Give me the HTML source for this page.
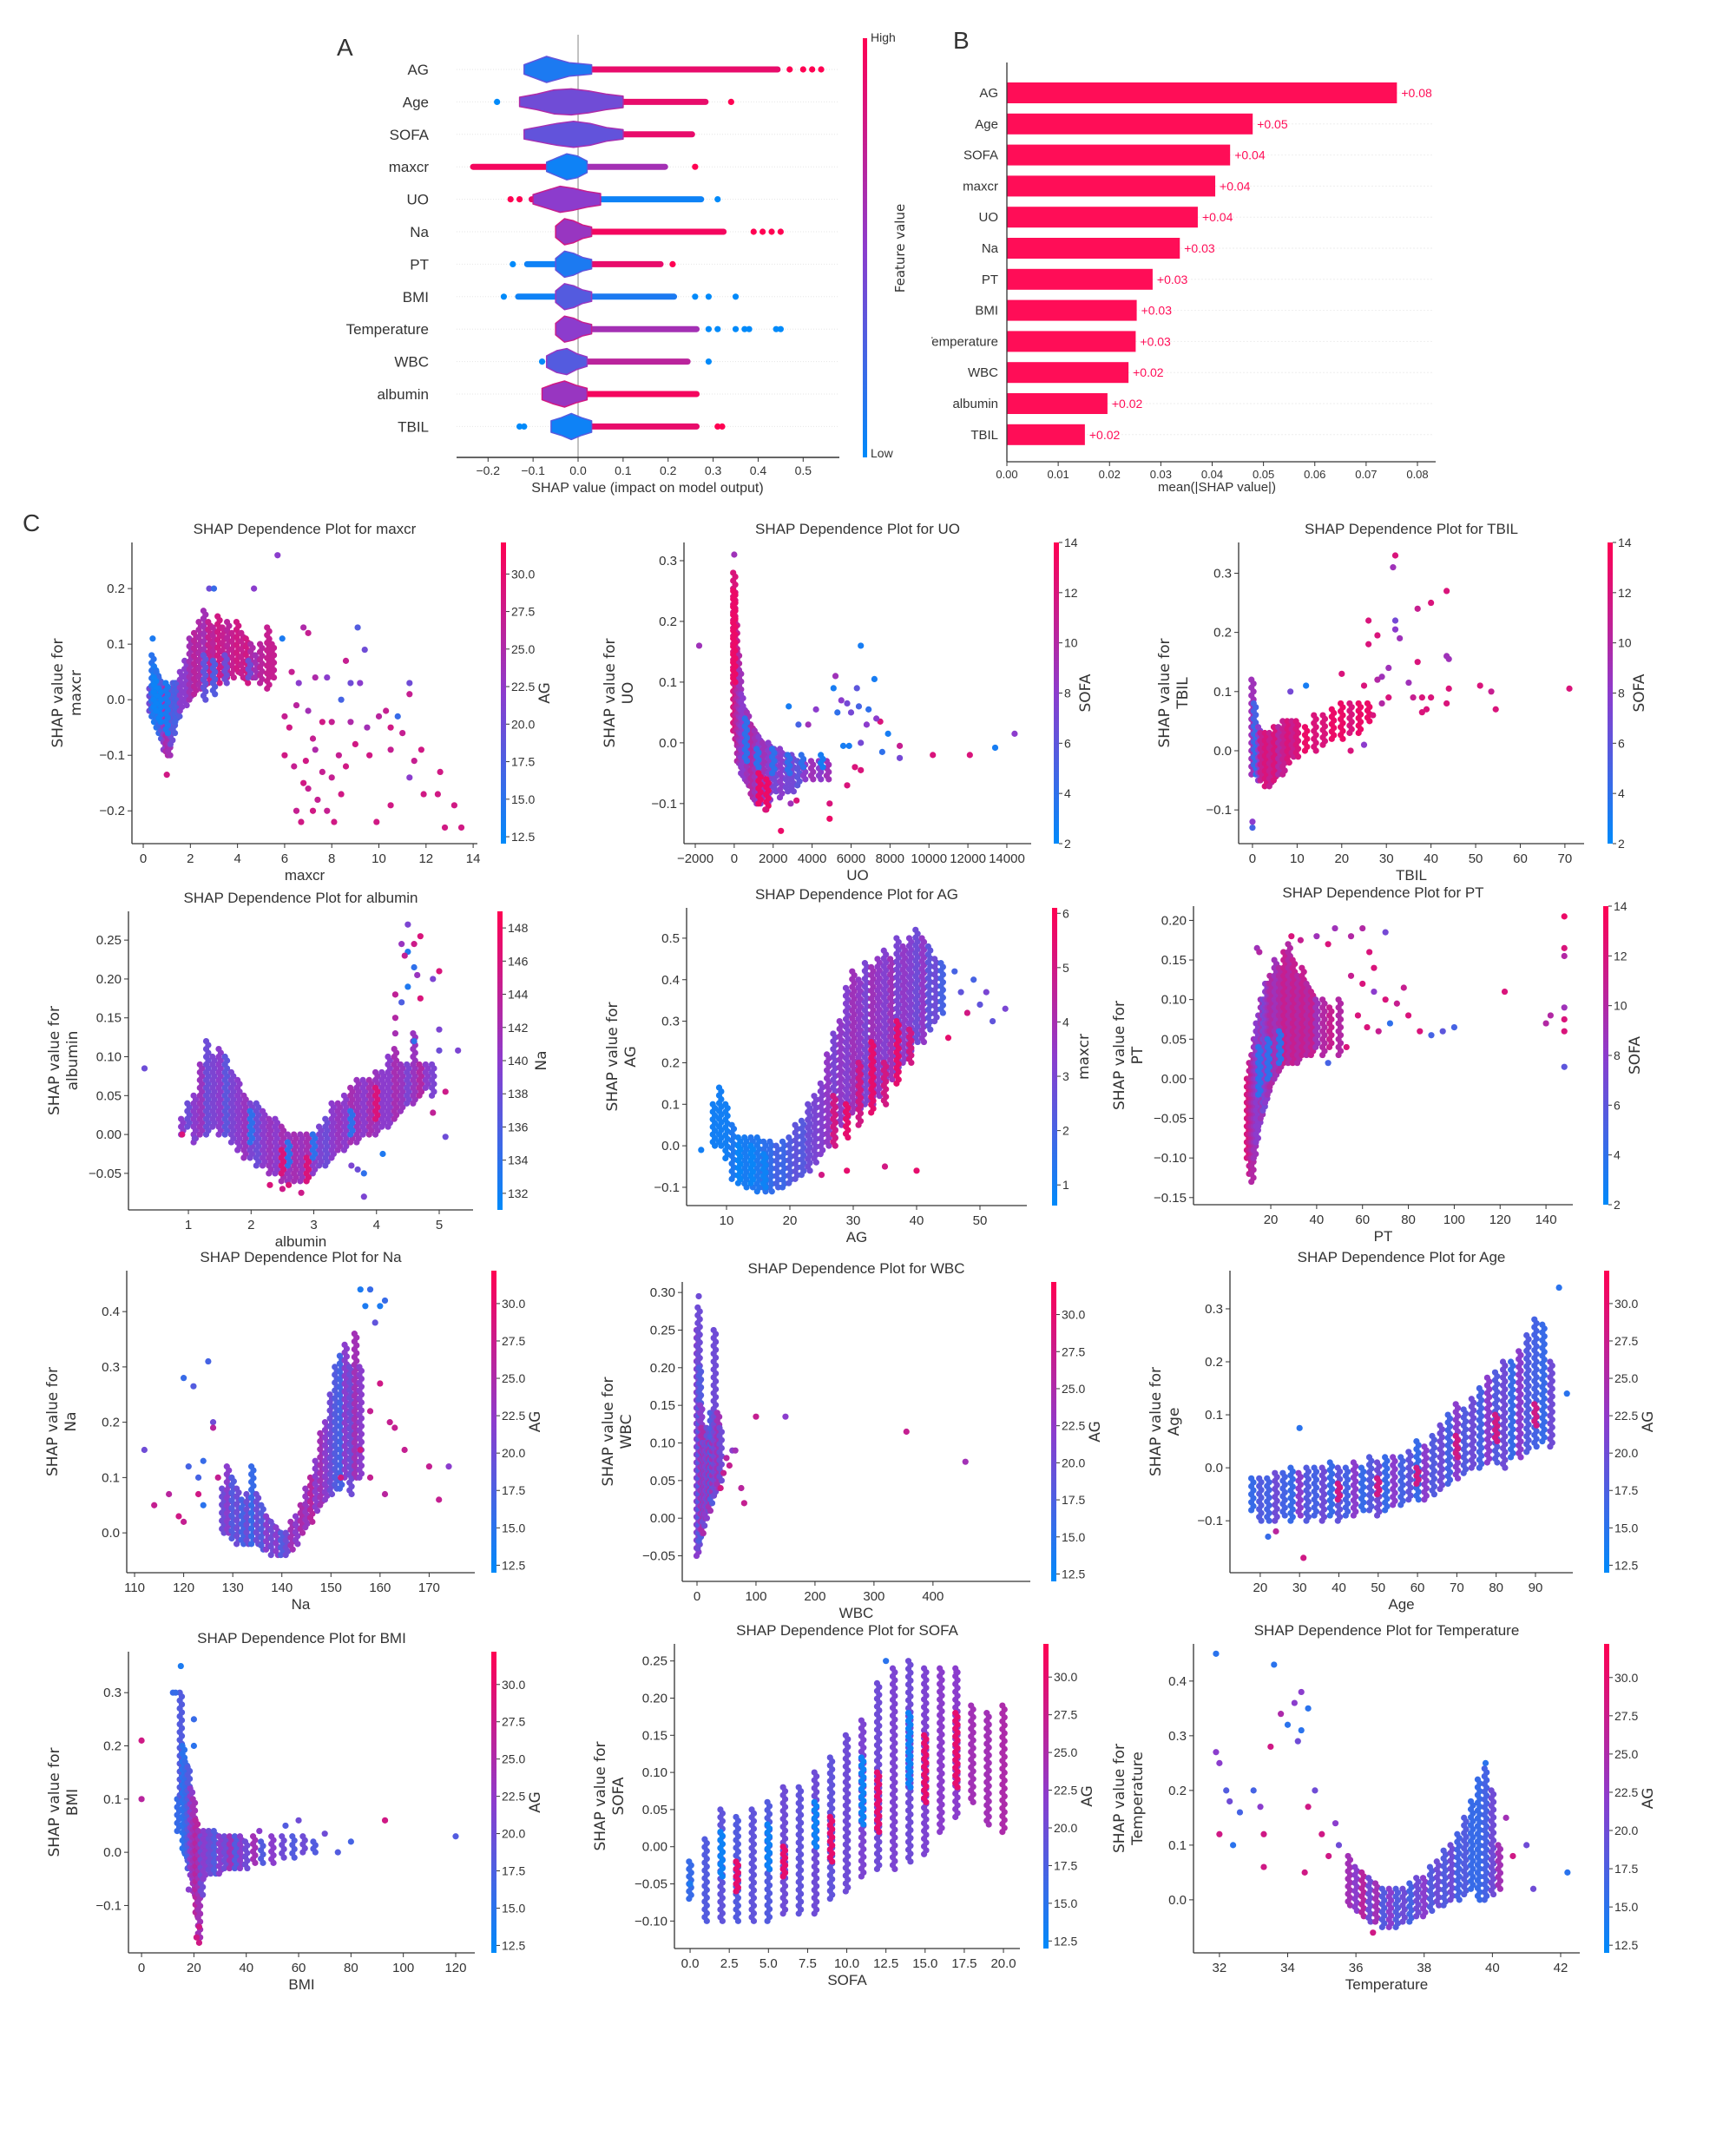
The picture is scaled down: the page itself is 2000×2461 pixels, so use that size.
<!DOCTYPE html>
<html><head><meta charset="utf-8"><style>
html,body{margin:0;padding:0;background:#fff}
svg{display:block}
text{font-family:"Liberation Sans",sans-serif;fill:#333}
.dj{font-family:"DejaVu Sans","Liberation Sans",sans-serif}
</style></head><body>
<svg id="fig" xmlns="http://www.w3.org/2000/svg" width="2000" height="2461" viewBox="0 0 2000 2461">
<defs>
<linearGradient id="cbar" x1="0" y1="1" x2="0" y2="0">
<stop offset="0" stop-color="rgb(0,138,250)"/><stop offset="0.5" stop-color="rgb(140,60,205)"/><stop offset="1" stop-color="rgb(255,0,82)"/>
</linearGradient>
<clipPath id="bclip"><rect x="1073" y="0" width="900" height="600"/></clipPath>
</defs>
<g id="panelA"></g>
<g id="panelB"></g>
<g id="panelC"></g>
</svg>
<script>
// ---------- Panel A data ----------
const beeNames=["AG","Age","SOFA","maxcr","UO","Na","PT","BMI","Temperature","WBC","albumin","TBIL"];
const beeCoreLo=[-0.12,-0.13,-0.12,-0.07,-0.1,-0.05,-0.05,-0.05,-0.05,-0.07,-0.08,-0.06];
const beeCoreHi=[0.03,0.1,0.1,0.02,0.05,0.03,0.03,0.03,0.03,0.02,0.02,0.03];
const beeDensity=[[0.2,0.6,1,0.7,0.4,0.3,0.2],[0.2,0.5,0.9,1,0.8,0.5,0.3],[0.2,0.5,0.8,1,0.8,0.4,0.2],[0.2,0.6,1,0.8,0.3],[0.2,0.6,1,0.8,0.5,0.3],[0.3,1,0.8,0.4,0.2],[0.3,1,0.8,0.4,0.2],[0.3,1,0.8,0.4,0.2],[0.3,1,0.8,0.4,0.2],[0.3,0.8,1,0.5,0.2],[0.3,0.7,1,0.6,0.3],[0.3,0.6,1,0.6,0.3]];
const beeCoreC=[0.1,0.4,0.35,0.05,0.5,0.55,0.1,0.3,0.5,0.3,0.55,0.05];
const beeTailLo=[-0.12,-0.13,-0.12,-0.24,-0.11,-0.05,-0.12,-0.14,-0.05,-0.07,-0.08,-0.06];
const beeTailLoC=[0.1,0.2,0.2,0.95,0.9,0.5,0.05,0.05,0.5,0.3,0.6,0.1];
const beeTailHi=[0.45,0.29,0.26,0.2,0.28,0.33,0.19,0.22,0.27,0.25,0.27,0.27];
const beeTailC=[0.9,0.9,0.9,0.6,0.05,0.95,0.9,0.1,0.6,0.7,0.95,0.9];
const beeDots=[[[0.47,1],[0.5,1],[0.52,1],[0.54,1]],[[-0.18,0],[0.34,1]],[],[[0.26,1]],[[-0.15,1],[-0.13,1],[0.31,0]],[[0.39,1],[0.41,1],[0.43,1],[0.45,1]],[[-0.145,0],[0.21,1]],[[-0.165,0],[0.26,0],[0.29,0],[0.35,0]],[[0.29,0],[0.31,0],[0.35,0],[0.37,0],[0.38,0],[0.44,0],[0.45,0]],[[-0.08,0],[0.29,0]],[],[[-0.13,0],[-0.12,0],[0.31,1],[0.32,1]]];
const beeTicks=["−0.2","−0.1","0.0","0.1","0.2","0.3","0.4","0.5"];
// ---------- Panel B data ----------
const barNames=["AG","Age","SOFA","maxcr","UO","Na","PT","BMI","Temperature","WBC","albumin","TBIL"];
const barValues=[0.076,0.0479,0.0435,0.0406,0.0372,0.0337,0.0284,0.0253,0.0251,0.0237,0.0196,0.0152];
const barLabels=["+0.08","+0.05","+0.04","+0.04","+0.04","+0.03","+0.03","+0.03","+0.03","+0.02","+0.02","+0.02"];
const barTicks=["0.00","0.01","0.02","0.03","0.04","0.05","0.06","0.07","0.08"];
// ---------- Panel C data: bands [x, yLow, yHigh, colorValue], points [x, y, colorValue] ----------
const maxcrBands=[[0.3,-0.02,0.02,20],[0.4,-0.03,0.08,15],[0.5,-0.04,0.06,14],[0.6,-0.05,0.05,15],[0.7,-0.06,0.04,16],[0.8,-0.07,0.03,18],[0.9,-0.09,0.02,22],[1.0,-0.1,0.02,25],[1.1,-0.1,0.02,24],[1.2,-0.08,0.02,20],[1.3,-0.06,0.03,18],[1.4,-0.04,0.03,17],[1.5,-0.03,0.03,18],[1.6,-0.02,0.05,22],[1.8,-0.01,0.07,22],[2.0,0.0,0.11,24],[2.2,0.01,0.12,26],[2.4,0.02,0.14,25],[2.6,0.02,0.16,24],[2.8,0.03,0.14,27],[3.0,0.03,0.13,26],[3.2,0.03,0.15,28],[3.4,0.04,0.13,27],[3.6,0.04,0.14,26],[3.8,0.04,0.12,27],[4.0,0.05,0.14,28],[4.2,0.04,0.12,27],[4.4,0.03,0.11,28],[4.6,0.04,0.1,25],[4.8,0.04,0.08,24],[5.0,0.03,0.1,26],[5.3,0.02,0.13,27],[5.5,0.04,0.1,27],[0.7,-0.04,0.02,13],[1.0,-0.06,0.03,14],[0.5,-0.02,0.04,13],[2.6,0.0,0.08,19],[3.0,0.01,0.07,18],[3.5,0.03,0.08,20],[4.5,0.04,0.07,20]];
const maxcrPts=[[5.7,0.26,22],[2.8,0.2,20],[3.0,0.2,16],[4.7,0.2,22],[6.8,0.13,25],[7.0,0.12,27],[9.1,0.13,18],[9.4,0.09,20],[5.9,0.11,14],[6.3,0.05,27],[6.6,0.03,22],[7.3,0.04,25],[7.8,0.04,22],[8.6,0.07,27],[8.8,0.03,20],[9.2,0.03,22],[11.3,0.03,20],[11.3,0.01,27],[8.4,0.0,17],[6.0,-0.03,27],[6.5,-0.01,26],[7.0,-0.02,24],[7.6,-0.04,28],[8.0,-0.04,27],[8.8,-0.04,25],[9.5,-0.05,24],[10.0,-0.03,26],[10.3,-0.02,27],[10.5,-0.05,28],[10.8,-0.03,16],[11.0,-0.06,27],[6.0,-0.1,28],[6.4,-0.12,27],[6.8,-0.15,28],[7.0,-0.16,27],[7.3,-0.09,25],[7.6,-0.13,27],[8.0,-0.14,27],[8.4,-0.17,28],[7.2,-0.2,28],[7.8,-0.2,27],[8.1,-0.22,28],[6.7,-0.22,28],[6.5,-0.2,27],[9.0,-0.08,28],[9.6,-0.1,28],[10.5,-0.19,28],[9.9,-0.22,28],[10.5,-0.09,27],[11.5,-0.11,27],[11.8,-0.09,28],[11.3,-0.14,22],[11.9,-0.17,28],[12.5,-0.17,28],[12.6,-0.13,28],[12.8,-0.23,28],[13.2,-0.19,28],[13.5,-0.23,28],[6.2,-0.05,28],[7.2,-0.07,27],[8.3,-0.1,27],[0.4,0.11,14],[1.0,-0.135,28],[6.9,-0.11,28],[7.4,-0.18,27],[8.6,-0.12,28]];
const uoBands=[[0,0.02,0.28,12],[100,0.0,0.2,11],[200,-0.03,0.15,10],[300,-0.04,0.12,9],[400,-0.05,0.08,8],[500,-0.06,0.06,8],[700,-0.07,0.05,9],[900,-0.09,0.03,10],[1100,-0.1,0.02,9],[1300,-0.1,0.01,8],[1500,-0.09,0.0,9],[1800,-0.1,0.0,8],[2100,-0.08,-0.01,7],[2400,-0.09,-0.01,8],[2700,-0.08,-0.02,7],[3000,-0.08,-0.02,7],[3300,-0.07,-0.03,6],[3600,-0.06,-0.03,8],[4000,-0.06,-0.03,9],[4400,-0.06,-0.03,8],[4800,-0.06,-0.03,9],[600,-0.03,0.04,4],[1200,-0.04,-0.01,4],[2000,-0.05,-0.01,4],[2800,-0.05,-0.02,4],[3500,-0.04,-0.02,4],[4500,-0.04,-0.02,3],[1300,-0.1,-0.05,13],[1700,-0.11,-0.06,13],[0,0.1,0.25,13]];
const uoPts=[[0,0.31,9],[-1800,0.16,9],[6500,0.16,3],[7200,0.105,3],[5200,0.11,9],[6300,0.09,6],[5100,0.09,3],[5500,0.07,8],[5800,0.065,7],[6400,0.06,5],[6000,0.05,7],[5300,0.05,4],[6900,0.055,4],[4200,0.055,8],[3800,0.03,9],[2800,0.06,3],[3300,0.03,5],[6800,0.03,8],[7500,0.035,12],[7300,0.04,8],[7900,0.015,3],[6500,0.0,7],[5600,-0.005,3],[5900,-0.005,3],[8500,-0.005,11],[7600,-0.015,4],[8500,-0.025,7],[10200,-0.02,12],[12100,-0.02,12],[13400,-0.008,3],[14400,0.015,8],[6200,-0.04,12],[6500,-0.045,12],[5800,-0.07,12],[4900,-0.1,12],[4900,-0.125,13],[2400,-0.145,13],[1600,-0.11,12],[2900,-0.1,9],[3200,-0.095,12]];
const tbilBands=[[0,-0.04,0.12,9],[0.5,-0.03,0.08,5],[1,-0.04,0.04,4],[1.5,-0.05,0.04,8],[2,-0.05,0.03,11],[3,-0.06,0.03,12],[4,-0.06,0.03,11],[5,-0.05,0.04,12],[6,-0.04,0.04,10],[7,-0.04,0.05,11],[8,-0.02,0.05,12],[9,-0.01,0.05,11],[10,-0.01,0.05,12],[12,0.0,0.04,13],[14,0.0,0.06,12],[16,0.01,0.06,12],[18,0.02,0.07,13],[20,0.02,0.08,13],[22,0.03,0.08,12],[24,0.03,0.08,13],[26,0.05,0.08,13]];
const tbilPts=[[32,0.33,12],[31.5,0.31,9],[43.5,0.27,12],[40,0.25,12],[37,0.24,11],[32,0.22,7],[26,0.22,12],[28,0.195,12],[32,0.205,8],[33,0.19,9],[26,0.18,12],[20,0.13,12],[30.5,0.14,9],[37,0.15,12],[43.5,0.16,9],[44,0.155,9],[29,0.125,9],[28,0.12,10],[35,0.115,9],[44,0.105,12],[51,0.11,12],[71,0.105,12],[53.5,0.1,11],[54.5,0.07,12],[38,0.09,12],[40,0.09,12],[43.5,0.08,12],[39,0.07,12],[36,0.09,11],[38,0.065,12],[30.5,0.09,12],[25,0.11,12],[12,0.11,3],[8.5,0.1,7],[0,-0.13,5],[0,-0.12,8],[27,0.06,12],[29,0.08,10],[22,0.0,12],[25,0.01,8]];
const albBands=[[0.9,0.0,0.02,140],[1.0,0.01,0.04,138],[1.1,-0.01,0.05,140],[1.2,0.0,0.09,141],[1.3,0.0,0.12,138],[1.4,0.01,0.1,139],[1.5,0.0,0.11,140],[1.6,0.0,0.1,137],[1.7,-0.01,0.08,139],[1.8,-0.02,0.07,140],[1.9,-0.03,0.05,141],[2.0,-0.03,0.04,139],[2.1,-0.04,0.04,138],[2.2,-0.04,0.03,140],[2.3,-0.05,0.02,141],[2.4,-0.05,0.02,140],[2.5,-0.06,0.01,142],[2.6,-0.06,0.0,141],[2.7,-0.06,0.0,142],[2.8,-0.06,0.0,141],[2.9,-0.06,0.0,142],[3.0,-0.05,0.0,140],[3.1,-0.04,0.01,139],[3.2,-0.04,0.02,138],[3.3,-0.03,0.04,140],[3.4,-0.02,0.04,141],[3.5,-0.02,0.05,140],[3.6,-0.01,0.06,142],[3.7,-0.01,0.07,141],[3.8,0.0,0.07,140],[3.9,0.0,0.07,142],[4.0,0.0,0.08,141],[4.1,0.01,0.08,140],[4.2,0.01,0.1,140],[4.3,0.02,0.11,142],[4.4,0.03,0.09,141],[4.5,0.04,0.09,139],[4.6,0.04,0.13,141],[4.7,0.05,0.09,143],[4.8,0.06,0.09,140],[4.9,0.05,0.09,139],[2.0,-0.01,0.03,134],[2.6,-0.04,-0.01,134],[3.0,-0.03,0.0,134],[3.6,0.0,0.03,134],[2.5,-0.05,-0.02,146],[2.9,-0.06,-0.03,146],[4.0,0.02,0.06,146]];
const albPts=[[0.3,0.085,138],[4.5,0.27,139],[4.4,0.245,141],[4.6,0.245,145],[4.7,0.255,146],[4.5,0.235,133],[4.45,0.23,144],[4.6,0.215,134],[4.65,0.205,141],[5.0,0.21,146],[4.9,0.2,139],[4.3,0.18,144],[4.5,0.19,133],[4.4,0.17,136],[4.7,0.175,146],[4.3,0.15,143],[4.3,0.13,142],[5.0,0.135,139],[4.6,0.12,134],[5.3,0.108,139],[5.0,0.108,138],[5.1,0.055,145],[4.9,0.028,144],[5.1,-0.003,138],[4.1,-0.025,133],[3.6,-0.04,139],[3.7,-0.045,138],[3.8,-0.05,134],[3.8,-0.08,139],[2.3,-0.065,146],[2.5,-0.07,145],[2.8,-0.075,145],[2.6,-0.065,146],[0.9,0.0,146],[1.1,-0.005,139]];
const agBands=[[8,0.0,0.1,1],[9,0.0,0.14,1],[10,-0.03,0.1,1],[11,-0.08,0.05,1.2],[12,-0.09,0.02,1],[13,-0.1,0.02,1.1],[14,-0.1,0.02,1.3],[15,-0.11,0.02,1.2],[16,-0.11,0.01,1.5],[17,-0.11,0.01,1.6],[18,-0.1,0.0,2],[19,-0.1,0.01,1.8],[20,-0.09,0.02,2.2],[21,-0.08,0.05,2.5],[22,-0.07,0.06,2.3],[23,-0.06,0.1,2.8],[24,-0.04,0.12,3],[25,-0.02,0.15,3.2],[26,0.0,0.22,3.5],[27,0.02,0.27,3],[28,0.05,0.3,3.5],[29,0.07,0.38,3.2],[30,0.08,0.42,3.8],[31,0.09,0.4,3.5],[32,0.1,0.44,3],[33,0.1,0.43,3.8],[34,0.12,0.45,3.5],[35,0.15,0.47,3.2],[36,0.16,0.45,3.8],[37,0.18,0.5,3],[38,0.2,0.48,3.5],[39,0.22,0.5,3.2],[40,0.25,0.52,2.8],[41,0.25,0.5,3.5],[42,0.28,0.48,2.5],[43,0.3,0.45,2.8],[44,0.32,0.44,2],[27,0.0,0.12,5],[29,0.02,0.1,5.5],[31,0.05,0.2,5],[33,0.08,0.25,5.5],[35,0.1,0.2,5],[37,0.15,0.3,5.5],[39,0.2,0.28,5],[12,-0.08,0.0,0.8],[14,-0.09,0.0,0.8],[16,-0.1,-0.02,0.9]];
const agPts=[[6,-0.01,1],[46,0.42,2],[47,0.37,2.5],[48,0.32,5],[49,0.4,2],[50,0.34,2.5],[52,0.3,2.5],[54,0.33,3],[51,0.37,3],[45,0.26,5.5],[40,-0.06,5.5],[35,-0.05,5],[29,-0.06,5.5],[25,-0.07,5]];
const ptBands=[[10,-0.1,0.0,12],[11,-0.12,0.02,11],[12,-0.13,0.03,10],[13,-0.1,0.05,9],[14,-0.08,0.07,8],[15,-0.06,0.08,8],[16,-0.05,0.1,9],[17,-0.04,0.1,7],[18,-0.03,0.12,8],[19,-0.02,0.12,9],[20,-0.01,0.13,10],[22,0.0,0.15,9],[24,0.01,0.14,10],[26,0.02,0.16,11],[28,0.02,0.17,10],[30,0.02,0.15,11],[32,0.02,0.13,10],[34,0.03,0.14,11],[36,0.03,0.12,10],[38,0.03,0.11,11],[40,0.04,0.1,9],[43,0.03,0.1,10],[46,0.04,0.09,11],[50,0.03,0.1,10],[15,-0.02,0.04,4],[19,0.0,0.05,4],[24,0.02,0.06,4]];
const ptPts=[[14,0.165,9],[15,0.16,10],[29,0.18,12],[33,0.175,11],[40,0.18,9],[45,0.17,12],[48,0.19,9],[55,0.18,10],[60,0.19,10],[63,0.16,12],[70,0.185,7],[65,0.14,12],[55,0.13,11],[60,0.12,12],[65,0.11,8],[70,0.1,12],[75,0.095,11],[80,0.08,12],[78,0.115,11],[58,0.08,12],[62,0.065,12],[67,0.06,11],[72,0.07,4],[85,0.06,12],[90,0.055,5],[95,0.06,6],[100,0.065,5],[122,0.11,12],[140,0.07,10],[142,0.08,10],[148,0.205,13],[148,0.165,12],[148,0.155,10],[148,0.09,9],[148,0.075,12],[148,0.06,12],[148,0.015,6],[53,0.04,12],[45,0.02,5]];
const naBands=[[128,0.0,0.08,20],[129,0.0,0.12,22],[130,-0.01,0.1,18],[131,-0.02,0.08,20],[132,-0.02,0.06,17],[133,-0.02,0.07,20],[134,-0.02,0.12,16],[135,-0.02,0.07,20],[136,-0.03,0.05,18],[137,-0.03,0.03,22],[138,-0.04,0.02,20],[139,-0.04,0.01,22],[140,-0.04,0.0,18],[141,-0.04,0.0,20],[142,-0.03,0.02,24],[143,-0.02,0.03,22],[144,0.0,0.05,25],[145,0.01,0.08,23],[146,0.02,0.1,26],[147,0.04,0.13,22],[148,0.05,0.18,24],[149,0.06,0.2,22],[150,0.07,0.25,20],[151,0.08,0.3,18],[152,0.08,0.32,17],[153,0.1,0.34,22],[154,0.07,0.3,20],[155,0.1,0.36,24],[156,0.1,0.3,22]];
const naPts=[[112,0.15,20],[114,0.05,27],[117,0.07,26],[119,0.03,28],[120,0.02,27],[120,0.28,16],[121,0.12,17],[122,0.265,18],[123,0.1,17],[124,0.05,15],[125,0.31,17],[126,0.2,20],[126,0.19,26],[124,0.13,16],[123,0.07,28],[127,0.1,27],[156,0.44,14],[158,0.44,16],[160,0.41,14],[161,0.42,16],[157,0.41,14],[159,0.38,19],[160,0.27,28],[162,0.2,27],[163,0.19,27],[158,0.22,27],[165,0.15,27],[170,0.12,27],[172,0.06,27],[174,0.12,22],[156,0.15,28],[158,0.1,27],[161,0.07,26],[152,0.1,28]];
const wbcBands=[[1,-0.05,0.25,22],[3,-0.04,0.28,20],[5,-0.03,0.2,18],[7,-0.02,0.15,22],[9,-0.02,0.12,25],[11,-0.01,0.1,20],[13,0.0,0.09,24],[15,0.0,0.1,22],[18,0.01,0.12,20],[21,0.01,0.1,24],[24,0.02,0.14,18],[27,0.03,0.1,24],[30,0.03,0.25,20],[33,0.04,0.12,22],[36,0.04,0.14,24],[40,0.05,0.12,20]];
const wbcPts=[[45,0.06,27],[50,0.08,26],[55,0.07,27],[60,0.09,22],[65,0.09,24],[75,0.04,26],[80,0.02,27],[100,0.135,27],[150,0.135,22],[355,0.115,27],[455,0.075,24],[40,0.04,28],[3,0.295,20]];
const ageBands=[[18,-0.08,-0.02,16],[20,-0.1,-0.02,18],[22,-0.1,-0.02,17],[24,-0.1,-0.01,20],[26,-0.09,-0.01,17],[28,-0.1,0.0,16],[30,-0.09,-0.01,22],[32,-0.1,0.0,18],[34,-0.09,0.0,17],[36,-0.1,0.0,20],[38,-0.09,0.01,16],[40,-0.1,0.0,19],[42,-0.09,0.0,17],[44,-0.09,0.01,22],[46,-0.08,0.0,16],[48,-0.08,0.02,18],[50,-0.09,0.01,20],[52,-0.08,0.02,16],[54,-0.07,0.02,22],[56,-0.07,0.02,17],[58,-0.06,0.03,19],[60,-0.06,0.05,16],[62,-0.06,0.04,22],[64,-0.05,0.06,18],[66,-0.04,0.08,20],[68,-0.03,0.1,17],[70,-0.02,0.12,22],[72,-0.01,0.11,18],[74,0.0,0.13,20],[76,0.0,0.15,17],[78,0.01,0.17,22],[80,0.01,0.18,18],[82,0.0,0.2,20],[84,0.02,0.2,16],[86,0.02,0.22,22],[88,0.03,0.25,18],[90,0.04,0.28,17],[92,0.05,0.27,16],[94,0.04,0.2,20],[40,-0.06,-0.03,28],[50,-0.05,-0.02,28],[60,-0.03,0.0,28],[70,0.02,0.06,28],[80,0.05,0.1,28],[90,0.08,0.12,28]];
const agePts=[[96,0.34,15],[98,0.14,15],[31,-0.17,28],[24,-0.12,26],[30,0.075,15],[22,-0.13,16]];
const bmiBands=[[14,0.04,0.1,16],[15,0.1,0.3,18],[16,0.0,0.2,15],[17,-0.01,0.17,16],[18,-0.03,0.16,18],[19,-0.05,0.12,22],[20,-0.08,0.1,24],[21,-0.12,0.06,26],[22,-0.16,0.04,24],[23,-0.08,0.03,20],[24,-0.05,0.04,22],[26,-0.04,0.04,20],[28,-0.04,0.04,18],[30,-0.04,0.03,22],[32,-0.03,0.03,20],[34,-0.03,0.03,24],[36,-0.03,0.03,18],[38,-0.03,0.03,22],[40,-0.03,0.02,20],[43,-0.02,0.03,24],[46,-0.02,0.02,18],[50,-0.02,0.03,22],[54,-0.01,0.03,20],[58,-0.01,0.03,18],[62,0.0,0.03,20],[66,0.0,0.02,18]];
const bmiPts=[[15,0.35,14],[12,0.3,16],[13,0.3,16],[0,0.21,28],[0,0.1,26],[20,0.2,15],[22,-0.14,28],[21,-0.16,28],[22,-0.17,28],[18,-0.07,22],[45,0.04,22],[55,0.05,18],[60,0.06,20],[70,0.035,20],[75,0.0,18],[80,0.02,17],[93,0.06,28],[120,0.03,18],[20,0.25,16]];
const sofaBands=[[0,-0.07,-0.02,16],[1,-0.1,0.01,18],[2,-0.1,0.05,19],[3,-0.1,0.04,18],[4,-0.1,0.05,19],[5,-0.1,0.06,18],[6,-0.09,0.08,20],[7,-0.09,0.08,19],[8,-0.09,0.1,20],[9,-0.07,0.12,19],[10,-0.06,0.15,20],[11,-0.04,0.17,21],[12,-0.03,0.22,20],[13,-0.03,0.24,21],[14,-0.02,0.25,20],[15,-0.01,0.24,21],[16,0.02,0.24,22],[17,0.04,0.24,22],[18,0.06,0.19,24],[19,0.03,0.18,24],[20,0.02,0.19,25],[3,-0.06,-0.02,30],[6,-0.04,0.0,30],[9,-0.02,0.04,30],[12,0.02,0.1,30],[15,0.06,0.15,30],[17,0.08,0.18,30],[2,-0.04,0.02,13],[5,-0.03,0.03,13],[8,0.0,0.06,13],[11,0.03,0.12,13],[14,0.08,0.18,13]];
const sofaPts=[[0,-0.05,14],[12.5,0.25,15],[17,0.235,22]];
const tempBands=[[35.8,-0.01,0.08,24],[36.0,-0.02,0.06,22],[36.2,-0.03,0.05,26],[36.4,-0.04,0.04,20],[36.6,-0.04,0.03,24],[36.8,-0.05,0.02,18],[37.0,-0.05,0.02,22],[37.2,-0.05,0.02,18],[37.4,-0.04,0.02,20],[37.6,-0.04,0.03,17],[37.8,-0.03,0.04,20],[38.0,-0.03,0.04,22],[38.2,-0.02,0.06,18],[38.4,-0.01,0.07,20],[38.6,-0.01,0.09,18],[38.8,0.0,0.1,20],[39.0,0.0,0.12,17],[39.2,0.01,0.15,18],[39.4,0.02,0.18,16],[39.6,0.0,0.22,16],[39.8,0.0,0.24,17],[40.0,0.01,0.2,20],[40.2,0.02,0.1,24]];
const tempPts=[[31.9,0.45,15],[31.9,0.27,22],[32,0.25,22],[32.2,0.2,18],[32,0.12,28],[32.3,0.18,20],[32.4,0.1,15],[32.6,0.16,17],[33,0.2,17],[33.2,0.17,22],[33.3,0.12,28],[33.6,0.43,15],[33.5,0.28,28],[33.8,0.34,25],[34,0.32,15],[34.2,0.36,22],[34.4,0.38,22],[34.6,0.35,15],[34.4,0.31,15],[34.3,0.29,20],[34.8,0.2,20],[34.6,0.17,28],[35,0.12,28],[35.2,0.08,28],[35.4,0.14,22],[34.5,0.05,28],[33.3,0.06,28],[35.5,0.1,20],[40.4,0.15,24],[40.6,0.08,28],[41,0.1,20],[41.2,0.02,20],[42.2,0.05,15],[39.8,0.25,15],[36.5,-0.06,28]];
// tick labels
const maxcrXT=["0","2","4","6","8","10","12","14"], maxcrYT=["−0.2","−0.1","0.0","0.1","0.2"];
const uoXT=["−2000","0","2000","4000","6000","8000","10000","12000","14000"], uoYT=["−0.1","0.0","0.1","0.2","0.3"];
const tbilXT=["0","10","20","30","40","50","60","70"], tbilYT=["−0.1","0.0","0.1","0.2","0.3"];
const albXT=["1","2","3","4","5"], albYT=["−0.05","0.00","0.05","0.10","0.15","0.20","0.25"];
const agXT=["10","20","30","40","50"], agYT=["−0.1","0.0","0.1","0.2","0.3","0.4","0.5"];
const ptXT=["20","40","60","80","100","120","140"], ptYT=["−0.15","−0.10","−0.05","0.00","0.05","0.10","0.15","0.20"];
const naXT=["110","120","130","140","150","160","170"], naYT=["0.0","0.1","0.2","0.3","0.4"];
const wbcXT=["0","100","200","300","400"], wbcYT=["−0.05","0.00","0.05","0.10","0.15","0.20","0.25","0.30"];
const ageXT=["20","30","40","50","60","70","80","90"], ageYT=["−0.1","0.0","0.1","0.2","0.3"];
const bmiXT=["0","20","40","60","80","100","120"], bmiYT=["−0.1","0.0","0.1","0.2","0.3"];
const sofaXT=["0.0","2.5","5.0","7.5","10.0","12.5","15.0","17.5","20.0"], sofaYT=["−0.10","−0.05","0.00","0.05","0.10","0.15","0.20","0.25"];
const tempXT=["32","34","36","38","40","42"], tempYT=["0.0","0.1","0.2","0.3","0.4"];
const agCT=["12.5","15.0","17.5","20.0","22.5","25.0","27.5","30.0"], sofaCT=["2","4","6","8","10","12","14"];
const naCT=["132","134","136","138","140","142","144","146","148"], maxcrCT=["1","2","3","4","5","6"];

const NS="http://www.w3.org/2000/svg";
function mk(tag,attrs,parent,txt){const e=document.createElementNS(NS,tag);for(const k in attrs)e.setAttribute(k,attrs[k]);if(txt!==undefined)e.textContent=txt;parent.appendChild(e);return e;}
function num(s){return parseFloat(s.replace('−','-'));}
function cmap(t){t=Math.max(0,Math.min(1,t));const a=[0,138,250],m=[140,60,205],b=[255,0,82];let p,q,u;if(t<0.5){p=a;q=m;u=t/0.5;}else{p=m;q=b;u=(t-0.5)/0.5;}return `rgb(${Math.round(p[0]+(q[0]-p[0])*u)},${Math.round(p[1]+(q[1]-p[1])*u)},${Math.round(p[2]+(q[2]-p[2])*u)})`;}
const RED="#ff0d57";

// ---------- Panel A ----------
(function(){
const g=document.getElementById('panelA');
const x0=666, ppu=518.6, axL=526, axR=967, axY=527;
const X=v=>x0+v*ppu;
const rowY=i=>80+i*37.4;
let t=mk('text',{x:388,y:64,'font-size':28},g,'A');


mk('line',{x1:x0,y1:40,x2:x0,y2:axY,stroke:'#999','stroke-width':1.2},g);
beeNames.forEach((n,i)=>{
 const y=rowY(i);
 const row=mk('g',{},g);
 
 
 mk('line',{x1:axL,y1:y,x2:axR,y2:y,stroke:'#e6e6e6','stroke-width':1,'stroke-dasharray':'1 2'},row);
 const lab=mk('text',{x:494,y:y+6,'text-anchor':'end','font-size':17},row,n);
 
 
 mk('rect',{x:X(beeTailLo[i]),y:y-3.5,width:Math.max(0,X(beeCoreLo[i])-X(beeTailLo[i])+4),height:7,rx:3.5,fill:cmap(beeTailLoC[i])},row);
 mk('rect',{x:X(beeCoreHi[i])-4,y:y-3.5,width:Math.max(0,X(beeTailHi[i])-X(beeCoreHi[i])+4),height:7,rx:3.5,fill:cmap(beeTailC[i])},row);
 const d=beeDensity[i], n2=d.length, lo=beeCoreLo[i], hi=beeCoreHi[i];
 let top=[],bot=[];
 for(let k=0;k<n2;k++){const v=lo+(hi-lo)*k/(n2-1);top.push(`${X(v).toFixed(1)},${(y-3-d[k]*12).toFixed(1)}`);bot.unshift(`${X(v).toFixed(1)},${(y+3+d[k]*12).toFixed(1)}`);}
 const core=mk('polygon',{points:top.concat(bot).join(' '),fill:cmap(beeCoreC[i]),stroke:cmap(Math.min(1,beeCoreC[i]+0.25)),'stroke-width':1.5,'stroke-linejoin':'round'},row);
 
 
 beeDots[i].forEach(dd=>{const c=mk('circle',{cx:X(dd[0]),cy:y,r:3.6,fill:cmap(dd[1])},row);
  
  });
});
mk('line',{x1:axL,y1:axY,x2:axR,y2:axY,stroke:'#333','stroke-width':1.5},g);
beeTicks.forEach(s=>{const v=num(s);mk('line',{x1:X(v),y1:axY,x2:X(v),y2:axY+5,stroke:'#333'},g);mk('text',{x:X(v),y:axY+20,'text-anchor':'middle','font-size':14},g,s);});
t=mk('text',{x:746,y:567,'text-anchor':'middle','font-size':16},g,'SHAP value (impact on model output)');


const cb=mk('rect',{x:994,y:44,width:5,height:483,fill:'url(#cbar)'},g);


mk('text',{x:1003,y:48,'font-size':14},g,'High');
mk('text',{x:1003,y:527,'font-size':14},g,'Low');
t=mk('text',{x:1042,y:286,'text-anchor':'middle','font-size':15,transform:'rotate(-90 1042 286)','class':'dj'},g,'Feature value');


})();

// ---------- Panel B ----------
(function(){
const g=document.getElementById('panelB');
const x0=1160, ppu=473/0.08, axY=532;
const X=v=>x0+v*ppu;
let t=mk('text',{x:1098,y:56,'font-size':28},g,'B');


const lg=mk('g',{'clip-path':'url(#bclip)'},g);
barNames.forEach((n,i)=>{
 const y=107+i*35.8;
 mk('line',{x1:x0,y1:y,x2:1650,y2:y,stroke:'#eee','stroke-width':1,'stroke-dasharray':'2 2'},g);
 const b=mk('rect',{x:x0,y:y-12,width:X(barValues[i])-x0,height:24,fill:RED},g);
 
 
 mk('text',{x:X(barValues[i])+5,y:y+5,'font-size':14,style:'fill:'+RED},g,barLabels[i]);
 const l=mk('text',{x:1150,y:y+5,'text-anchor':'end','font-size':15},lg,n);
 
 
});
mk('line',{x1:x0,y1:72,x2:x0,y2:axY,stroke:'#333','stroke-width':1.3},g);
mk('line',{x1:x0,y1:axY,x2:1654,y2:axY,stroke:'#333','stroke-width':1.3},g);
barTicks.forEach(s=>{const v=num(s);mk('line',{x1:X(v),y1:axY,x2:X(v),y2:axY+5,stroke:'#333'},g);mk('text',{x:X(v),y:axY+19,'text-anchor':'middle','font-size':13},g,s);});
t=mk('text',{x:1402,y:566,'text-anchor':'middle','font-size':15},g,'mean(|SHAP value|)');


})();

// ---------- Panel C ----------
const panels=[
 {name:'maxcr',L:152,R:550,T:625,B:972,xd:[-0.48,14.18],yd:[-0.259,0.283],bands:maxcrBands,pts:maxcrPts,xt:maxcrXT,yt:maxcrYT,cx:577,cd:[12.04,32.1],ct:agCT,cl:'AG'},
 {name:'UO',L:788,R:1188,T:625,B:972,xd:[-2580,15250],yd:[-0.166,0.33],bands:uoBands,pts:uoPts,xt:uoXT,yt:uoYT,cx:1214,cd:[2,14],ct:sofaCT,cl:'SOFA'},
 {name:'TBIL',L:1427,R:1825,T:625,B:972,xd:[-3.1,74.3],yd:[-0.157,0.352],bands:tbilBands,pts:tbilPts,xt:tbilXT,yt:tbilYT,cx:1852,cd:[2,14],ct:sofaCT,cl:'SOFA'},
 {name:'albumin',L:148,R:545,T:1050,B:1394,xd:[0.044,5.54],yd:[-0.097,0.287],bands:albBands,pts:albPts,xt:albXT,yt:albYT,cx:573,cd:[131,149],ct:naCT,cl:'Na'},
 {name:'AG',L:791,R:1183,T:1046,B:1389,xd:[3.7,57.4],yd:[-0.144,0.573],bands:agBands,pts:agPts,xt:agXT,yt:agYT,cx:1212,cd:[0.62,6.1],ct:maxcrCT,cl:'maxcr'},
 {name:'PT',L:1375,R:1812,T:1044,B:1388,xd:[-13.7,151.7],yd:[-0.159,0.218],bands:ptBands,pts:ptPts,xt:ptXT,yt:ptYT,cx:1847,cd:[2,14],ct:sofaCT,cl:'SOFA'},
 {name:'Na',L:146,R:547,T:1464,B:1812,xd:[108.4,179.3],yd:[-0.072,0.474],bands:naBands,pts:naPts,xt:naXT,yt:naYT,cx:566,cd:[12.0,32.2],ct:agCT,cl:'AG'},
 {name:'WBC',L:786,R:1187,T:1477,B:1822,xd:[-25,565],yd:[-0.084,0.314],bands:wbcBands,pts:wbcPts,xt:wbcXT,yt:wbcYT,cx:1211,cd:[12.0,32.2],ct:agCT,cl:'AG'},
 {name:'Age',L:1417,R:1812,T:1464,B:1812,xd:[12.3,99.5],yd:[-0.198,0.372],bands:ageBands,pts:agePts,xt:ageXT,yt:ageYT,cx:1848,cd:[12.0,32.2],ct:agCT,cl:'AG'},
 {name:'BMI',L:148,R:547,T:1903,B:2250,xd:[-5,127.3],yd:[-0.189,0.377],bands:bmiBands,pts:bmiPts,xt:bmiXT,yt:bmiYT,cx:566,cd:[12.0,32.2],ct:agCT,cl:'AG'},
 {name:'SOFA',L:777,R:1175,T:1894,B:2245,xd:[-1,21.05],yd:[-0.137,0.273],bands:sofaBands,pts:sofaPts,xt:sofaXT,yt:sofaYT,cx:1202,cd:[12.0,32.2],ct:agCT,cl:'AG'},
 {name:'Temperature',L:1375,R:1820,T:1894,B:2250,xd:[31.24,42.56],yd:[-0.097,0.468],bands:tempBands,pts:tempPts,xt:tempXT,yt:tempYT,cx:1848,cd:[12.0,32.2],ct:agCT,cl:'AG'}
];
(function(){
const root=document.getElementById('panelC');
let t=mk('text',{x:26,y:612,'font-size':28},root,'C');


panels.forEach(p=>{
 const g=mk('g',{},root);
 
 
 const X=v=>p.L+(v-p.xd[0])/(p.xd[1]-p.xd[0])*(p.R-p.L);
 const Y=v=>p.B-(v-p.yd[0])/(p.yd[1]-p.yd[0])*(p.B-p.T);
 const C=v=>cmap((v-p.cd[0])/(p.cd[1]-p.cd[0]));
 const tt=mk('text',{x:(p.L+p.R)/2,y:p.T-10,'text-anchor':'middle','font-size':17},g,'SHAP Dependence Plot for '+p.name);
 
 
 const pg=mk('g',{},g);
 
 
 p.bands.forEach(b=>{
  const y1=Y(b[2]), y2=Y(b[1]), col=C(b[3]);
  const n=Math.max(1,Math.round((y2-y1)/4.5));
  for(let k=0;k<=n;k++){
   const c=mk('circle',{cx:X(b[0])+((k%2)?1.2:-1.2),cy:y1+(y2-y1)*k/n,r:3.6,fill:col},pg);
   
   
  }
 });
 p.pts.forEach(q=>{
  const c=mk('circle',{cx:X(q[0]),cy:Y(q[1]),r:3.6,fill:C(q[2])},pg);
  
  
 });
 mk('line',{x1:p.L,y1:p.T,x2:p.L,y2:p.B,stroke:'#333','stroke-width':1.3},g);
 mk('line',{x1:p.L,y1:p.B,x2:p.R,y2:p.B,stroke:'#333','stroke-width':1.3},g);
 p.xt.forEach(s=>{const v=num(s),x=X(v);mk('line',{x1:x,y1:p.B,x2:x,y2:p.B+5,stroke:'#333'},g);mk('text',{x:x,y:p.B+22,'text-anchor':'middle','font-size':15},g,s);});
 p.yt.forEach(s=>{const v=num(s),y=Y(v);mk('line',{x1:p.L-5,y1:y,x2:p.L,y2:y,stroke:'#333'},g);mk('text',{x:p.L-8,y:y+5,'text-anchor':'end','font-size':15},g,s);});
 const xl=mk('text',{x:(p.L+p.R)/2,y:p.B+42,'text-anchor':'middle','font-size':17},g,p.name);
 
 
 const cy=(p.T+p.B)/2;
 const yl=mk('text',{x:p.L-80,y:cy,'text-anchor':'middle','font-size':17,'class':'dj',transform:`rotate(-90 ${p.L-80} ${cy})`},g);
 
 
 mk('tspan',{x:p.L-80,dy:0},yl,'SHAP value for');
 mk('tspan',{x:p.L-80,dy:21},yl,p.name);
 const cb=mk('rect',{x:p.cx,y:p.T,width:6,height:p.B-p.T,fill:'url(#cbar)'},g);
 
 
 p.ct.forEach(s=>{const v=num(s),y=p.B-(v-p.cd[0])/(p.cd[1]-p.cd[0])*(p.B-p.T);mk('line',{x1:p.cx+6,y1:y,x2:p.cx+10,y2:y,stroke:'#333'},g);mk('text',{x:p.cx+12,y:y+5,'font-size':14},g,s);});
 const lx=p.cx+(p.ct===sofaCT||p.ct===maxcrCT?42:56);
 const cl=mk('text',{x:lx,y:cy,'text-anchor':'middle','font-size':17,'class':'dj',transform:`rotate(-90 ${lx} ${cy})`},g,p.cl);
 
 
});
})();
</script>
</body></html>
